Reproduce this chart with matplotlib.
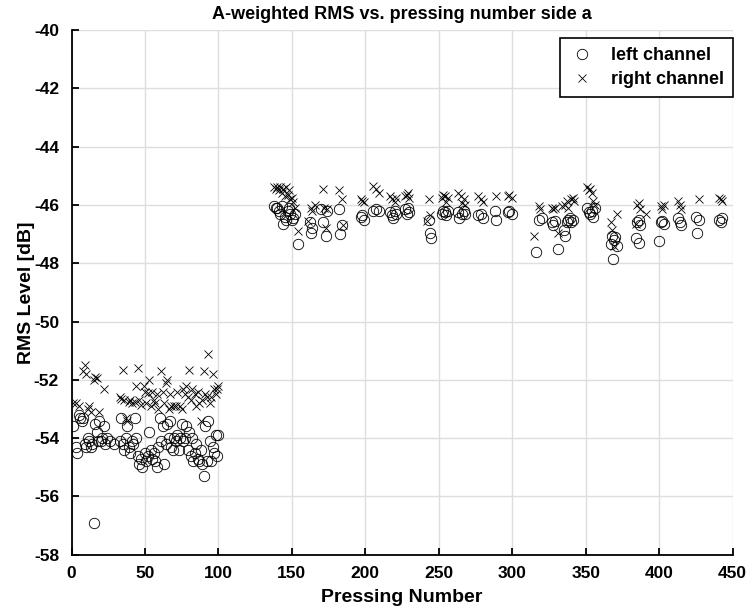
import numpy as np
import matplotlib
matplotlib.use("Agg")
import matplotlib.pyplot as plt

# ---- measurements -------------------------------------------------------
# first production run (pressings 1-100)
early_left_n = [1, 3, 4, 5, 6, 7, 8, 9, 10, 11, 12, 13, 14, 15, 16, 17, 18, 19, 20,
                21, 22, 23, 24, 26, 29, 33, 34, 35, 36, 37, 38, 39, 40, 41, 42, 43,
                44, 45, 46, 47, 48, 50, 51, 52, 53, 54, 55, 56, 57, 58, 59, 60, 61,
                62, 63, 64, 65, 66, 67, 68, 69, 70, 71, 72, 73, 74, 75, 76, 77, 78,
                79, 80, 81, 82, 83, 84, 85, 86, 87, 88, 89, 90, 91, 92, 93, 94, 95,
                96, 97, 98, 99, 100]
early_left_db = [-53.6, -54.3, -54.5, -53.2, -53.3, -53.4, -53.3, -54.2, -54.3, -54.0,
                 -54.1, -54.3, -54.2, -56.9, -53.5, -53.8, -54.1, -53.4, -54.1, -54.0,
                 -53.6, -54.2, -54.0, -54.1, -54.2, -54.1, -53.3, -54.2, -54.4, -54.0,
                 -53.6, -54.3, -54.5, -54.1, -54.2, -53.3, -54.0, -54.6, -54.9, -54.7,
                 -55.0, -54.5, -54.8, -54.6, -53.8, -54.4, -54.7, -54.5, -54.8, -55.0,
                 -54.3, -53.3, -54.1, -53.6, -54.9, -54.2, -53.5, -54.0, -53.4, -54.3,
                 -54.4, -54.0, -54.1, -53.9, -54.4, -54.0, -53.5, -54.1, -54.0, -53.6,
                 -54.4, -53.8, -54.6, -54.0, -54.8, -54.5, -54.2, -54.7, -54.8, -54.4,
                 -54.9, -55.3, -53.6, -54.8, -53.4, -54.1, -54.8, -54.3, -54.5, -53.9,
                 -54.6, -53.9]

early_right_n = [1, 3, 5, 8, 9, 10, 11, 12, 13, 15, 16, 17, 19, 22, 33, 34, 35, 36, 37,
                 38, 39, 40, 41, 43, 44, 45, 46, 47, 49, 50, 51, 52, 53, 54, 55, 56, 57,
                 58, 59, 61, 62, 63, 64, 65, 66, 67, 68, 70, 71, 72, 74, 75, 76, 77, 78,
                 79, 80, 81, 82, 84, 85, 86, 87, 88, 89, 90, 91, 92, 93, 94, 95, 96, 97,
                 98, 99, 100]
early_right_db = [-52.8, -52.8, -52.9, -51.7, -51.5, -51.8, -53.0, -52.9, -53.1, -52.0,
                  -51.9, -51.95, -53.1, -52.3, -52.6, -52.65, -51.65, -52.7, -53.3, -53.4,
                  -52.75, -52.7, -52.8, -52.75, -52.2, -51.6, -52.7, -52.85, -52.2, -52.4,
                  -52.8, -52.45, -52.0, -52.9, -52.4, -52.7, -52.8, -52.5, -53.0, -51.7,
                  -52.4, -52.8, -52.1, -52.0, -53.0, -52.5, -52.9, -52.9, -52.9, -52.4,
                  -52.9, -53.0, -52.3, -52.5, -52.2, -52.6, -51.65, -52.7, -52.3, -52.5,
                  -52.9, -52.4, -52.8, -53.4, -52.7, -51.7, -52.5, -52.6, -51.1, -52.8,
                  -52.6, -51.8, -52.3, -52.5, -52.3, -52.2]

# second production run (pressings 138-444)
late_left_n = [138, 139, 140, 141, 142, 143, 144, 145, 146, 147, 148, 149, 150, 151, 152,
               154, 162, 163, 164, 170, 171, 173, 174, 182, 183, 184, 197, 198, 199, 205,
               207, 209, 217, 218, 219, 220, 221, 227, 228, 229, 230, 243, 244, 245, 252,
               253, 254, 255, 256, 263, 264, 266, 267, 268, 277, 279, 280, 288, 289, 297,
               298, 300, 316, 318, 320, 327, 328, 329, 331, 335, 336, 337, 338, 339, 340,
               341, 351, 352, 353, 354, 355, 356, 367, 368, 369, 370, 371, 368.5, 384, 385,
               386, 386.5, 387, 400, 401, 402, 403, 413, 414, 415, 425, 426, 427, 441, 442,
               443]
late_left_db = [-46.05, -46.1, -46.1, -46.2, -46.3, -46.05, -46.65, -46.4, -46.5, -46.2,
                -46.1, -46.3, -46.5, -46.45, -46.3, -47.35, -46.6, -46.95, -46.8, -46.15,
                -46.6, -47.05, -46.2, -46.15, -47.0, -46.7, -46.4, -46.35, -46.5, -46.2,
                -46.15, -46.2, -46.25, -46.35, -46.45, -46.2, -46.3, -46.15, -46.3, -46.1,
                -46.25, -46.5, -46.95, -47.15, -46.3, -46.2, -46.25, -46.35, -46.2, -46.25,
                -46.45, -46.3, -46.2, -46.3, -46.35, -46.3, -46.45, -46.2, -46.5, -46.25,
                -46.2, -46.3, -47.6, -46.5, -46.45, -46.6, -46.7, -46.55, -47.5, -46.85,
                -47.05, -46.6, -46.5, -46.45, -46.6, -46.5, -46.1, -46.25, -46.3, -46.2,
                -46.4, -46.1, -47.35, -47.05, -47.2, -47.1, -47.4, -47.85, -47.15, -46.6,
                -46.5, -47.3, -46.7, -47.25, -46.6, -46.55, -46.65, -46.45, -46.6, -46.7,
                -46.4, -46.95, -46.5, -46.5, -46.6, -46.45]

late_right_n = [138, 139, 140, 141, 142, 143, 144, 145, 146, 147, 148, 149, 150, 151, 152,
                154, 161, 163, 164, 166, 171, 172, 173, 174, 182, 184, 185, 197, 198, 199,
                205, 207, 209, 217, 218, 220, 221, 227, 228, 229, 230, 242, 243, 244, 252,
                253, 254, 255, 256, 263, 265, 266, 267, 268, 277, 279, 280, 289, 297, 298,
                300, 315, 318, 319, 327, 328, 329, 331, 334, 336, 337, 338, 340, 341, 342,
                351, 352, 353, 354, 355, 356, 367, 368, 369, 371, 384, 385, 386, 387, 391,
                401, 402, 403, 413, 414, 415, 427, 441, 442, 443]
late_right_db = [-45.4, -45.45, -45.4, -45.5, -45.4, -45.6, -45.45, -45.7, -45.4, -45.65,
                 -45.5, -45.8, -45.75, -45.9, -46.1, -46.9, -46.55, -46.1, -46.2, -46.0,
                 -45.45, -46.1, -46.8, -46.15, -45.5, -45.8, -46.7, -45.8, -45.85, -45.9,
                 -45.35, -45.45, -45.6, -45.7, -45.8, -45.9, -45.75, -45.7, -45.65, -45.6,
                 -45.75, -46.55, -45.8, -46.35, -45.75, -45.65, -45.7, -45.9, -45.75, -45.6,
                 -45.7, -45.95, -45.8, -46.0, -45.7, -45.8, -45.9, -45.7, -45.7, -45.65,
                 -45.75, -47.05, -46.05, -46.15, -46.1, -46.15, -46.1, -46.95, -46.05, -46.0,
                 -45.85, -46.1, -45.8, -45.75, -45.85, -45.4, -45.5, -45.45, -45.6, -45.85,
                 -46.0, -46.6, -46.85, -47.4, -46.3, -46.65, -46.0, -45.95, -46.15, -46.3,
                 -46.05, -46.15, -46.0, -45.85, -46.0, -46.15, -45.8, -45.75, -45.8, -45.85]

x_ticks = [0, 50, 100, 150, 200, 250, 300, 350, 400, 450]
y_ticks = [-58, -56, -54, -52, -50, -48, -46, -44, -42, -40]

# ---- figure -------------------------------------------------------------
plt.rcParams["font.family"] = ["Liberation Sans", "DejaVu Sans"]
plt.rcParams["font.weight"] = "bold"
plt.rcParams["axes.unicode_minus"] = False

fig = plt.figure(figsize=(7.53, 6.13), dpi=100)
ax = fig.add_axes([0.095, 0.095, 0.878, 0.856])

left_n = early_left_n + late_left_n
left_db = early_left_db + late_left_db
right_n = early_right_n + late_right_n
right_db = early_right_db + late_right_db

ax.plot(left_n, left_db, linestyle="none", marker="o", markersize=7.5,
        markerfacecolor="none", markeredgecolor="black", markeredgewidth=0.6,
        label="left channel")
ax.plot(right_n, right_db, linestyle="none", marker="x", markersize=6,
        color="black", markeredgewidth=0.6, label="right channel")

ax.set_xlim(0, 450)
ax.set_ylim(-58, -40)
ax.set_xticks(x_ticks)
ax.set_yticks(y_ticks)
ax.grid(True, color="#dedede", linewidth=1.0)
ax.set_axisbelow(True)

for side in ("top", "right"):
    ax.spines[side].set_visible(False)
for side in ("left", "bottom"):
    ax.spines[side].set_linewidth(1.3)

ax.tick_params(direction="in", length=5, width=1.3, labelsize=12.5)
ax.tick_params(axis="x", pad=8)
ax.tick_params(axis="y", pad=9)
for lbl in ax.get_xticklabels() + ax.get_yticklabels():
    lbl.set_fontweight("bold")

ax.set_xlabel("Pressing Number", fontsize=14, fontweight="bold", labelpad=6)
ax.set_ylabel("RMS Level [dB]", fontsize=14, fontweight="bold", labelpad=0)
ax.yaxis.set_label_coords(-0.056, 0.5)
ax.set_title("A-weighted RMS vs. pressing number side a", fontsize=13,
             fontweight="bold", pad=8)

leg = ax.legend(loc="upper right", bbox_to_anchor=(1.0, 0.985), fontsize=13,
                frameon=True, fancybox=False, edgecolor="black", framealpha=1,
                handlelength=1.4, handletextpad=0.9, borderpad=0.5,
                labelspacing=0.4, borderaxespad=0)
leg.get_frame().set_linewidth(1.2)
for t in leg.get_texts():
    t.set_fontweight("bold")

fig.savefig("out.png", dpi=100)
